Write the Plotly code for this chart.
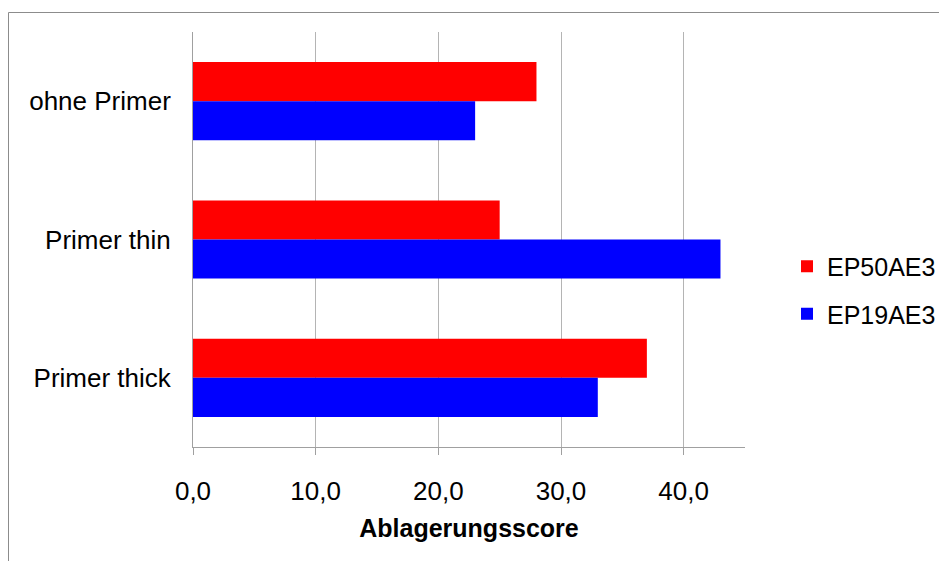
import plotly.graph_objects as go

# Deposit scores per primer variant
categories = ["ohne Primer", "Primer thin", "Primer thick"]
ep50ae3 = [28.0, 25.0, 37.0]
ep19ae3 = [23.0, 43.0, 33.0]
tick_vals = [0, 10, 20, 30, 40]
tick_text = ["0,0", "10,0", "20,0", "30,0", "40,0"]

FONT = "Liberation Sans, Arial, sans-serif"
GRID = "#b4b4b4"
AXIS = "#a0a0a0"

fig = go.Figure()
fig.add_trace(go.Bar(
    y=categories, x=ep50ae3, name="EP50AE3", orientation="h",
    marker=dict(color="#ff0000", line=dict(width=0)),
    legendgroup="a",
))
fig.add_trace(go.Bar(
    y=categories, x=ep19ae3, name="EP19AE3", orientation="h",
    marker=dict(color="#0000ff", line=dict(width=0)),
    legendgroup="b",
))

W, H = 939, 561
L, R, T, B = 193, 194, 32, 114
pw, ph = W - L - R, H - T - B

def px_x(px):
    return (px - L) / pw

def px_y(py):
    return (H - B - py) / ph

fig.update_layout(
    width=W, height=H,
    margin=dict(l=L, r=R, t=T, b=B, pad=0, autoexpand=False),
    paper_bgcolor="white", plot_bgcolor="white",
    font=dict(family=FONT, size=26, color="black"),
    barmode="group", bargap=0.435, bargroupgap=0,
    showlegend=True,
    legend=dict(
        xref="container", yref="container",
        x=787 / W, xanchor="left", y=1 - 290 / H, yanchor="middle",
        font=dict(size=25), tracegroupgap=12, traceorder="grouped",
        bgcolor="rgba(0,0,0,0)",
    ),
    xaxis=dict(
        range=[0, 45], tickvals=tick_vals, ticktext=tick_text,
        showgrid=True, gridcolor=GRID, gridwidth=1,
        showline=True, linecolor=AXIS, linewidth=1,
        ticks="outside", ticklen=7, tickcolor=AXIS,
        zeroline=False, ticklabelstandoff=14,
        title=dict(text="<b>Ablagerungsscore</b>", font=dict(size=25), standoff=14),
    ),
    yaxis=dict(
        autorange="reversed",
        showline=True, linecolor=AXIS, linewidth=1,
        showgrid=False, ticks="", ticklabelstandoff=16,
    ),
    shapes=[dict(
        type="rect", xref="paper", yref="paper",
        x0=px_x(8.5), x1=px_x(960), y0=px_y(580), y1=px_y(12.5),
        line=dict(color="#8c8c8c", width=1), fillcolor="rgba(0,0,0,0)",
        layer="below",
    )],
)

fig.write_html("out.html")
